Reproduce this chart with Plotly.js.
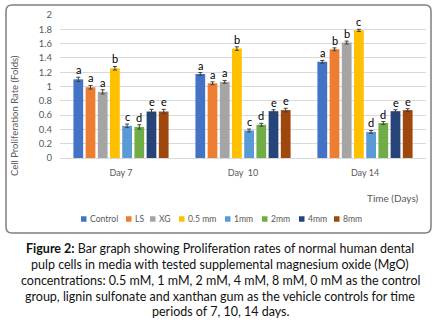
<!DOCTYPE html>
<html><head><meta charset="utf-8">
<script src="https://cdn.plot.ly/plotly-3.0.1.min.js"></script>
<style>html,body{margin:0;padding:0;background:#fff;}#chart{width:440px;height:326px;}</style>
</head><body><div id="chart"></div>
<script>
const days = ["Day 7", "Day  10", "Day 14"];
const seriesNames = ["Control", "LS", "XG", "0.5 mm", "1mm", "2mm", "4mm", "8mm"];
const control = [1.10, 1.175, 1.345];
const ls      = [0.99, 1.045, 1.52];
const xg      = [0.925, 1.065, 1.615];
const mm05    = [1.255, 1.53, 1.785];
const mm1     = [0.45, 0.385, 0.365];
const mm2     = [0.435, 0.465, 0.49];
const mm4     = [0.65, 0.655, 0.655];
const mm8     = [0.65, 0.67, 0.67];
const errControl = [0.03, 0.02, 0.02];
const errLs      = [0.025, 0.02, 0.02];
const errXg      = [0.03, 0.02, 0.02];
const err05      = [0.025, 0.025, 0.015];
const err1       = [0.025, 0.02, 0.02];
const err2       = [0.03, 0.02, 0.02];
const err4       = [0.03, 0.02, 0.02];
const err8       = [0.03, 0.025, 0.02];
const lettersControl = ["a", "a", "a"];
const lettersLs      = ["a", "a", "b"];
const lettersXg      = ["a", "a", "b"];
const letters05      = ["b", "b", "c"];
const letters1       = ["c", "c", "d"];
const letters2       = ["d", "d", "d"];
const letters4       = ["e", "e", "e"];
const letters8       = ["e", "e", "e"];
const yTitle = "Cell Proliferation Rate (Folds)";
const xTitle = "Time (Days)";
const captionBold = "Figure 2:";
const captionLines = [
  " Bar graph showing Proliferation rates of normal human dental",
  "pulp cells in media with tested supplemental magnesium oxide (MgO)",
  "concentrations: 0.5 mM, 1 mM, 2 mM, 4 mM, 8 mM, 0 mM as the control",
  "group, lignin sulfonate and xanthan gum as the vehicle controls for time",
  "periods of 7, 10, 14 days."
];

const values = [control, ls, xg, mm05, mm1, mm2, mm4, mm8];
const errs = [errControl, errLs, errXg, err05, err1, err2, err4, err8];
const letters = [lettersControl, lettersLs, lettersXg, letters05, letters1, letters2, letters4, letters8];
const colors = ["#4472C4", "#ED7D31", "#A5A5A5", "#FFC000", "#5B9BD5", "#70AD47", "#264478", "#9E480E"];

const FONT = "Lato, 'Open Sans', sans-serif";
const W = 440, H = 326;
const ML = 60, MR = 14, MT = 15, MB = 168;
const PW = W - ML - MR, PH = H - MT - MB;
const px2x = p => (p - ML) / PW;
const py2y = p => (H - MB - p) / PH;

const traces = values.map((v, i) => ({
  type: "bar", name: seriesNames[i], x: days, y: v,
  marker: {color: colors[i], line: {width: 0}},
  error_y: {type: "data", array: errs[i], visible: true, color: "#404040", thickness: 1, width: 2},
  showlegend: false
}));

const n = values.length;
const bargap = 0.2;
const slot = (1 - bargap) / n;
const annotations = [];
values.forEach((v, i) => {
  v.forEach((val, j) => {
    annotations.push({
      x: j - (1 - bargap) / 2 + slot * (i + 0.5), y: val + errs[i][j],
      xref: "x", yref: "y", text: letters[i][j], showarrow: false,
      yanchor: "bottom", xanchor: "center", yshift: -1,
      font: {family: FONT, size: 11, color: "#000"}
    });
  });
});
annotations.push({
  xref: "paper", yref: "paper", x: px2x(14), y: py2y(116), text: yTitle, textangle: -90,
  showarrow: false, xanchor: "center", yanchor: "middle",
  font: {family: FONT, size: 9.5, color: "#595959"}
});
annotations.push({
  xref: "paper", yref: "paper", x: px2x(421), y: py2y(198), text: xTitle,
  showarrow: false, xanchor: "right", yanchor: "middle",
  font: {family: FONT, size: 10, color: "#595959"}
});
// legend
const legendX = [81, 126, 150, 179, 225, 262, 299, 334];
const legendY = 219;
const shapes = [];
seriesNames.forEach((nm, i) => {
  shapes.push({type: "rect", xref: "paper", yref: "paper",
    x0: px2x(legendX[i]), x1: px2x(legendX[i] + 5.5), y0: py2y(legendY + 2.75), y1: py2y(legendY - 2.75),
    fillcolor: colors[i], line: {width: 0}});
  annotations.push({xref: "paper", yref: "paper", x: px2x(legendX[i] + 6.5), y: py2y(legendY),
    text: nm, showarrow: false, xanchor: "left", yanchor: "middle",
    font: {family: FONT, size: 8.6, color: "#595959"}});
});
// frame
const fx0 = px2x(6), fx1 = px2x(431), fy0 = py2y(5), fy1 = py2y(233);
const rx = 6 / PW, ry = 6 / PH;
shapes.push({type: "path", xref: "paper", yref: "paper",
  path: `M ${fx0 + rx} ${fy0} L ${fx1 - rx} ${fy0} Q ${fx1} ${fy0} ${fx1} ${fy0 - ry} L ${fx1} ${fy1 + ry} Q ${fx1} ${fy1} ${fx1 - rx} ${fy1} L ${fx0 + rx} ${fy1} Q ${fx0} ${fy1} ${fx0} ${fy1 + ry} L ${fx0} ${fy0 - ry} Q ${fx0} ${fy0} ${fx0 + rx} ${fy0} Z`,
  line: {color: "#7f7f7f", width: 1.5}, fillcolor: "rgba(0,0,0,0)"});
// caption
const capY = [248, 264, 280, 296, 312];
captionLines.forEach((ln, k) => {
  annotations.push({xref: "paper", yref: "paper", x: px2x(220), y: py2y(capY[k]),
    text: k === 0 ? "<b>" + captionBold + "</b>" + ln : ln,
    showarrow: false, xanchor: "center", yanchor: "middle",
    font: {family: FONT, size: 12.5, color: "#111"}});
});

const layout = {
  width: W, height: H,
  margin: {l: ML, r: MR, t: MT, b: MB, pad: 0},
  paper_bgcolor: "#fff", plot_bgcolor: "#fff",
  barmode: "group", bargap: bargap, bargroupgap: 0.2,
  showlegend: false,
  xaxis: {type: "category", showgrid: false, zeroline: false, showline: true, linecolor: "#d9d9d9", linewidth: 1,
    ticks: "", ticklabelstandoff: 6, tickfont: {family: FONT, size: 9, color: "#595959"}},
  yaxis: {range: [0, 2], dtick: 0.2, tick0: 0, showgrid: true, gridcolor: "#d9d9d9", gridwidth: 1,
    zeroline: false, showline: false, ticks: "", ticklabelstandoff: 7,
    tickfont: {family: FONT, size: 9.5, color: "#595959"}},
  annotations: annotations, shapes: shapes
};
Plotly.newPlot("chart", traces, layout, {staticPlot: true, displayModeBar: false});
</script></body></html>
